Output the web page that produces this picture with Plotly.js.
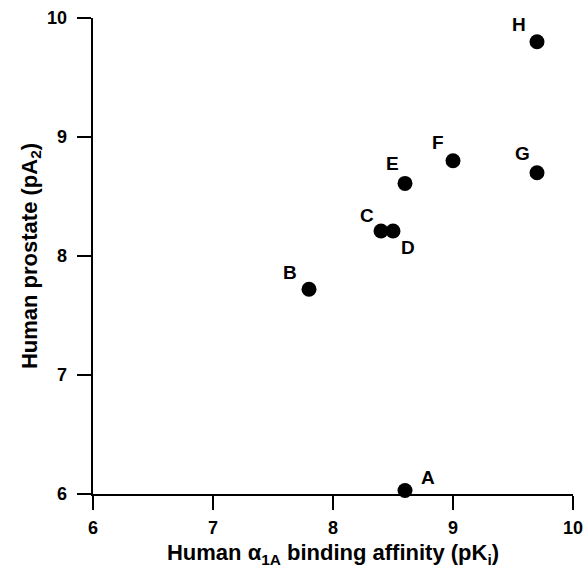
<!DOCTYPE html>
<html>
<head>
<meta charset="utf-8">
<script src="https://cdn.plot.ly/plotly-3.0.1.min.js"></script>
<style>
html,body{margin:0;padding:0;background:#fff;}
#chart{width:585px;height:569px;}
</style>
</head>
<body>
<div id="chart"></div>
<script>
const labels = ["A", "B", "C", "D", "E", "F", "G", "H"];
const bindingAffinity = [8.6, 7.8, 8.4, 8.5, 8.6, 9.0, 9.7, 9.7];
const prostatePA2 = [6.03, 7.72, 8.21, 8.21, 8.61, 8.8, 8.7, 9.8];
const tickValues = [6, 7, 8, 9, 10];
const tickLabels = ["6", "7", "8", "9", "10"];
const labelShiftX = [23, -19, -14, 15, -13, -15, -15, -18];
const labelShiftY = [13, 17, 16, -16, 20, 18, 19, 17];

const fontFam = '"Liberation Sans", Arial, Helvetica, sans-serif';
const boldFont = {family: fontFam, size: 18, color: '#000'};

const trace = {
  x: bindingAffinity,
  y: prostatePA2,
  mode: 'markers',
  type: 'scatter',
  marker: {size: 15, color: '#000'},
  cliponaxis: false,
  hoverinfo: 'skip'
};

const pointLabels = labels.map((t, i) => ({
  x: bindingAffinity[i], y: prostatePA2[i], xref: 'x', yref: 'y',
  text: '<b>' + t + '</b>', showarrow: false, xshift: labelShiftX[i], yshift: labelShiftY[i],
  font: {family: fontFam, size: 19, color: '#000'}
}));

// bold tick labels drawn through the axis scales
const xTickLabels = tickValues.map((v, i) => ({
  x: v, y: 0, xref: 'x', yref: 'paper', text: '<b>' + tickLabels[i] + '</b>',
  showarrow: false, yanchor: 'middle', xanchor: 'center', yshift: -34, font: boldFont
}));
const yTickLabels = tickValues.map((v, i) => ({
  x: 0, y: v, xref: 'paper', yref: 'y', text: '<b>' + tickLabels[i] + '</b>',
  showarrow: false, yanchor: 'middle', xanchor: 'right', xshift: -24, font: boldFont
}));

function makeAxis(titleText, standoff) {
  return {
    range: [6, 10],
    tickmode: 'array',
    tickvals: tickValues,
    ticktext: tickLabels,
    ticks: 'outside', ticklen: 14, tickwidth: 2, tickcolor: '#000',
    showline: true, linecolor: '#000', linewidth: 2,
    showgrid: false, zeroline: false,
    tickfont: {family: fontFam, size: 18, color: 'rgba(0,0,0,0)'},
    title: {text: titleText, standoff: standoff,
      font: {family: fontFam, size: 22, color: '#000'}}
  };
}

const layout = {
  width: 585, height: 569,
  margin: {l: 93, r: 12, t: 18, b: 75},
  paper_bgcolor: '#fff', plot_bgcolor: '#fff',
  showlegend: false,
  xaxis: makeAxis('<b>Human α<sub>1A</sub> binding affinity (pK<sub>i</sub>)</b>', 10),
  yaxis: makeAxis('<b>Human prostate (pA<sub>2</sub>)</b>', 10),
  annotations: pointLabels.concat(xTickLabels, yTickLabels)
};

Plotly.newPlot('chart', [trace], layout, {displayModeBar: false, staticPlot: true});
</script>
</body>
</html>
